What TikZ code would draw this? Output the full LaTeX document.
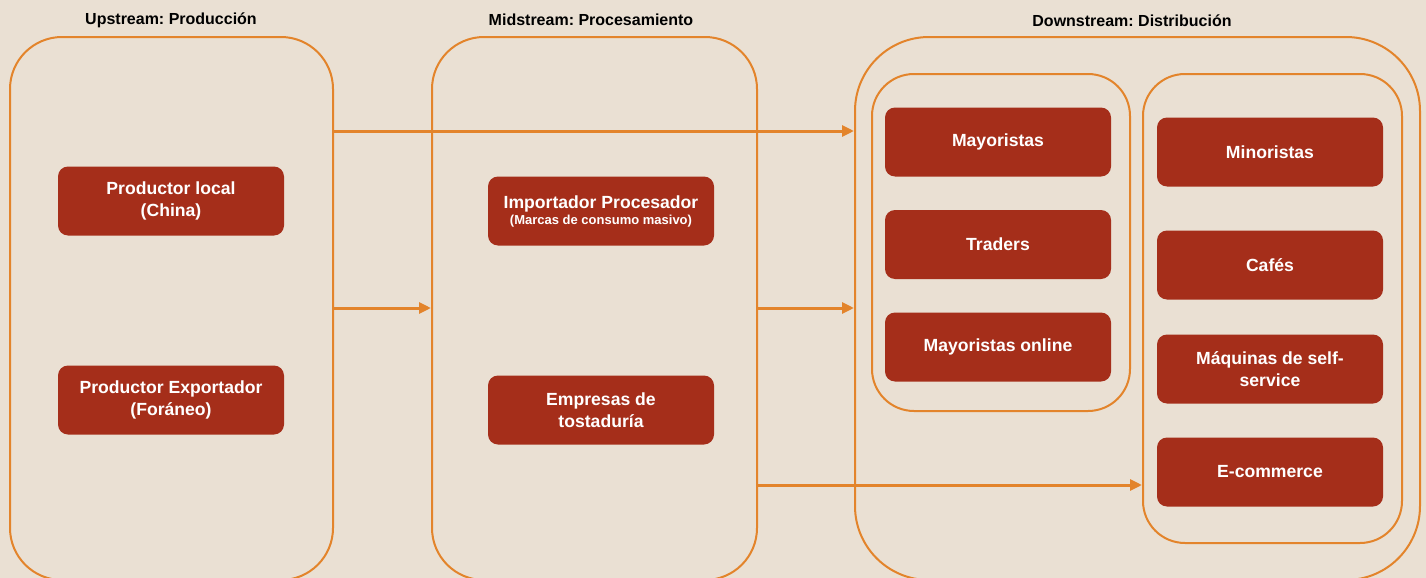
\documentclass[tikz,border=0pt]{standalone}
\usepackage{fontspec}
\setmainfont{Liberation Sans}
\usetikzlibrary{arrows.meta}
\frenchspacing
\definecolor{bgc}{HTML}{EAE0D3}
\definecolor{orng}{HTML}{E3842B}
\definecolor{redbox}{HTML}{A52E1A}
\tikzset{
  group/.style={draw=orng, line width=1pt, inner sep=0pt, rounded corners=26pt},
  subgroup/.style={draw=orng, line width=1pt, inner sep=0pt, rounded corners=21pt},
  item/.style={fill=redbox, rounded corners=5pt, minimum width=113pt, minimum height=34.5pt,
    inner sep=0pt, text=white, align=center, font=\bfseries\fontsize{8.8}{11}\selectfont},
  header/.style={font=\bfseries\fontsize{8}{10}\selectfont, text=black},
  arr/.style={draw=orng, line width=1.5pt, -{Triangle[length=6pt,width=5.5pt]}}
}
\begin{document}
\begin{tikzpicture}[x=0.5pt,y=-0.5pt]
\fill[bgc] (0,0) rectangle (1426,578);
\useasboundingbox (0,0) rectangle (1426,578);
% groups
\node[group, minimum width=161.5pt, minimum height=271.5pt] (up) at (171.5,308.5) {};
\node[group, minimum width=162.5pt, minimum height=271.5pt] (mid) at (594.5,308.5) {};
\node[group, rounded corners=37pt, minimum width=282.5pt, minimum height=271.5pt] (down) at (1137.5,308.5) {};
\node[subgroup, minimum width=129pt, minimum height=168.5pt] (g1) at (1001,242.5) {};
\node[subgroup, minimum width=129.5pt, minimum height=234.5pt] (g2) at (1272.5,308.5) {};
% headers
\node[header] (h1) at (171,20) {Upstream: Producción};
\node[header] (h2) at (591,20) {Midstream: Procesamiento};
\node[header] (h3) at (1132,21) {Downstream: Distribución};
% items
\node[item] (pl) at (171,201) {Productor local\\(China)};
\node[item] (pe) at (171,400) {Productor Exportador\\(Foráneo)};
\node[item] (ip) at (601,211) {Importador Procesador\\[-3pt]{\fontsize{6.5}{8}\selectfont (Marcas de consumo masivo)}};
\node[item] (et) at (601,410) {Empresas de\\tostaduría};
\node[item] (may) at (998,142) {Mayoristas};
\node[item] (tr) at (998,244.5) {Traders};
\node[item] (mo) at (998,347) {Mayoristas online};
\node[item] (mi) at (1270,152) {Minoristas};
\node[item] (ca) at (1270,265) {Cafés};
\node[item] (mq) at (1270,369) {Máquinas de self-\\service};
\node[item] (ec) at (1270,472) {E-commerce};
% arrows
\coordinate (ya) at (0,131);
\coordinate (yb) at (0,308);
\coordinate (yc) at (0,485);
\draw[arr] (up.east |- ya) -- (down.west |- ya);
\draw[arr] (up.east |- yb) -- (mid.west |- yb);
\draw[arr] (mid.east |- yb) -- (down.west |- yb);
\draw[arr] (mid.east |- yc) -- (g2.west |- yc);
\end{tikzpicture}
\end{document}
